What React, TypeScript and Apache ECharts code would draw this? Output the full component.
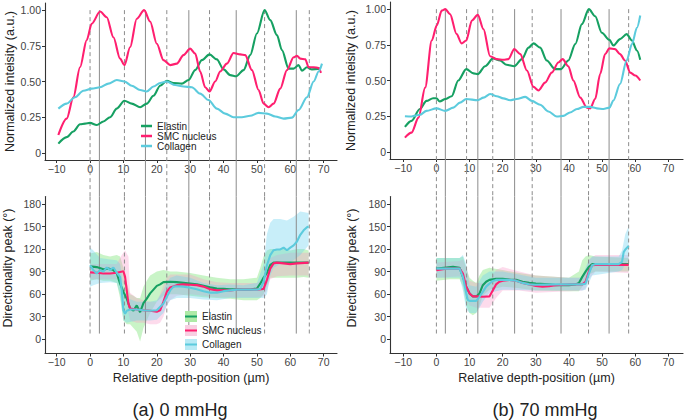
import React, { useEffect, useRef } from "react";
import * as echarts from "echarts";

const FONT = "'Liberation Sans', Arial, Helvetica, sans-serif";

const X_TICKS = [-10, 0, 10, 20, 30, 40, 50, 60, 70];
const INT_TICKS = [0, 0.25, 0.5, 0.75, 1];
const DIR_TICKS = [0, 30, 60, 90, 120, 150, 180];
const SERIES_NAMES = ["Elastin", "SMC nucleus", "Collagen"];
const PANEL_LABELS = ["(a) 0 mmHg", "(b) 70 mmHg"];
const X_TITLE = "Relative depth-position (µm)";
const Y_TITLE_TOP = "Normalized inteisity (a.u.)";
const Y_TITLE_BOTTOM = "Directionality peak (°)";

// reference lines (µm)
const A_DASHED = [0, 10.3, 23, 35.8, 52.3, 65.7];
const A_SOLID = [2.8, 16.6, 29.6, 43.8, 61.8];
const B_DASHED = [0, 9.1, 17, 28.9, 45.9, 58];
const B_SOLID = [2.7, 12.5, 23.6, 37.6, 52.1];

// ---- (a) 0 mmHg : normalized intensity ----
const A_INT_ELASTIN = [
  [-9.5, 0.065], [-7, 0.11], [-5, 0.15], [-3, 0.2], [-1.5, 0.205], [0, 0.21], [2, 0.195], [4, 0.22],
  [6, 0.25], [8, 0.31], [10.3, 0.365], [12.5, 0.345], [15, 0.32], [17, 0.345], [19, 0.4], [21, 0.47],
  [23, 0.505], [25, 0.49], [27.5, 0.485], [29.5, 0.51], [31.5, 0.58], [33.5, 0.65], [35.8, 0.69],
  [38, 0.655], [40, 0.585], [42, 0.545], [43.8, 0.537], [46, 0.58], [48, 0.685], [50, 0.836],
  [52.3, 1.0], [54, 0.93], [56, 0.825], [57.5, 0.72], [59.5, 0.59], [61, 0.59], [62.5, 0.615],
  [63.5, 0.575], [65, 0.6], [66.5, 0.585], [69, 0.59],
];
const A_INT_SMC = [
  [-9.5, 0.125], [-7, 0.24], [-5, 0.39], [-3, 0.6], [-1, 0.79], [0.5, 0.905], [3, 0.99], [5, 0.95],
  [7, 0.81], [9, 0.66], [10.3, 0.615], [12, 0.74], [14, 0.94], [16.2, 1.0], [18, 0.92], [20, 0.765],
  [22, 0.65], [24, 0.615], [26, 0.625], [28, 0.685], [30, 0.73], [31.5, 0.695], [33, 0.57], [34.5, 0.46],
  [35.8, 0.43], [37.5, 0.5], [39, 0.57], [41, 0.625], [43, 0.7], [45, 0.69], [46.5, 0.685], [48.5, 0.58],
  [50.5, 0.44], [52, 0.345], [53.5, 0.32], [55, 0.345], [57, 0.45], [59, 0.58], [61, 0.67], [62, 0.68],
  [63, 0.66], [64.5, 0.655], [65.5, 0.6], [67, 0.6], [68.5, 0.595], [69.2, 0.56],
];
const A_INT_COLLAGEN = [
  [-9.5, 0.31], [-7, 0.345], [-4.5, 0.39], [-2, 0.435], [0.5, 0.45], [3, 0.46], [5.5, 0.485], [8, 0.51],
  [10.3, 0.5], [12.5, 0.47], [15, 0.44], [17, 0.43], [19, 0.465], [21, 0.49], [23, 0.5], [25.5, 0.475],
  [28, 0.465], [30.5, 0.46], [33, 0.415], [35.5, 0.37], [38, 0.31], [40.5, 0.275], [43, 0.25],
  [45.5, 0.25], [48, 0.26], [50.5, 0.28], [53, 0.275], [55.5, 0.255], [58, 0.24], [60.5, 0.247],
  [62.5, 0.3], [65, 0.39], [67, 0.5], [68.5, 0.57], [69.5, 0.625],
];

// ---- (b) 70 mmHg : normalized intensity ----
const B_INT_ELASTIN = [
  [-9.5, 0.175], [-7.5, 0.217], [-5, 0.3], [-3, 0.357], [-1, 0.376], [0, 0.376], [1, 0.353], [2.7, 0.37],
  [4.6, 0.39], [6.6, 0.5], [9, 0.58], [11.2, 0.55], [12.5, 0.545], [14.7, 0.6], [17.1, 0.655],
  [19.2, 0.64], [21.2, 0.61], [23.5, 0.6], [25.8, 0.65], [27.8, 0.73], [29.3, 0.76], [31.3, 0.73],
  [33.3, 0.64], [35.8, 0.58], [37.6, 0.58], [39.8, 0.64], [41.9, 0.755], [43.9, 0.895], [46, 1.0],
  [47.9, 0.95], [49.9, 0.835], [52.2, 0.785], [53.4, 0.745], [55.4, 0.79], [57.4, 0.825], [59, 0.78],
  [60.5, 0.71], [61.5, 0.645],
];
const B_INT_SMC = [
  [-9.5, 0.1], [-7.5, 0.135], [-5.4, 0.24], [-3.4, 0.45], [-1.4, 0.78], [0.1, 0.885], [1.6, 0.99],
  [2.7, 1.0], [4.1, 0.965], [6.1, 0.825], [7.6, 0.76], [9, 0.78], [10.7, 0.92], [12.5, 0.96],
  [14.2, 0.86], [16.2, 0.67], [18.2, 0.65], [20.2, 0.645], [21.7, 0.65], [23.5, 0.72], [25.3, 0.685],
  [27.3, 0.57], [29.3, 0.455], [30.8, 0.43], [32.8, 0.485], [34.8, 0.555], [36.8, 0.626], [38.1, 0.65],
  [39.8, 0.6], [41.3, 0.5], [43.4, 0.38], [45.4, 0.31], [46.4, 0.305], [47.9, 0.37], [49.4, 0.545],
  [50.9, 0.685], [52.2, 0.725], [53.9, 0.72], [55.4, 0.685], [56.9, 0.64], [58.5, 0.555], [60, 0.535],
  [61.5, 0.5],
];
const B_INT_COLLAGEN = [
  [-9.5, 0.25], [-7.5, 0.248], [-5, 0.26], [-3, 0.287], [0, 0.305], [2.7, 0.287], [5.1, 0.31],
  [7.1, 0.345], [9, 0.37], [12.5, 0.362], [14.2, 0.38], [16.2, 0.405], [18.2, 0.39], [20.2, 0.375],
  [22.2, 0.362], [24.2, 0.37], [26.8, 0.385], [28.8, 0.357], [31.3, 0.33], [33.8, 0.283], [36.3, 0.248],
  [38.3, 0.252], [40.3, 0.276], [42.4, 0.3], [44.4, 0.315], [46.4, 0.315], [48.4, 0.305], [50.4, 0.3],
  [52.2, 0.31], [53.4, 0.36], [55.4, 0.475], [57.4, 0.64], [59, 0.755], [60.5, 0.87], [61.5, 0.955],
];

// ---- (a) 0 mmHg : directionality peak ----
const A_DIR_ELASTIN = [
  [0, 97], [2, 96], [4, 93], [5.5, 94], [7, 92], [8, 88], [9, 74], [10, 63], [11, 54], [12, 41], [13, 38],
  [14, 45], [15, 36], [16, 48], [17, 54], [18, 61], [19, 66], [20, 71], [21, 73], [22, 76], [24, 76.5],
  [26, 76], [28, 75], [30, 74], [32, 73], [34, 71], [36, 69], [38, 67.5], [40, 67], [42, 66.5], [44, 66.5],
  [46, 66], [48, 66], [50, 67.5], [51, 74], [52, 82], [53, 88], [54, 99], [55, 102], [58, 102], [62, 102],
  [65.5, 102],
];
const A_DIR_SMC = [
  [0, 89], [2, 88.5], [4, 87.5], [6, 87.5], [8, 88.5], [10, 90.5], [10.5, 83], [11, 65], [11.5, 47.5],
  [12, 41], [14, 39.5], [16, 38.5], [18, 38], [20, 36.5], [21, 38.5], [22, 50], [23, 63], [24, 69],
  [26, 72], [28, 73], [30, 72.5], [32, 72], [34, 70], [36, 66.5], [38, 65], [42, 65], [44, 66], [50, 66],
  [52, 67], [53, 79], [54, 94], [55, 101], [56, 102], [58, 101], [60, 100], [62, 101], [65.5, 102],
];
const A_DIR_COLLAGEN = [
  [0, 98.5], [1, 92], [2, 87.5], [3, 92], [4, 90], [5, 95.5], [6, 92], [7, 95.5], [8, 88.5], [9, 83],
  [9.5, 65], [10, 38.5], [10.5, 34], [11, 38], [12, 39.5], [14, 39.5], [16, 38.5], [18, 38], [20, 38.5],
  [22, 47.5], [23, 56.5], [24, 65], [25, 70], [26, 70.5], [28, 70], [30, 68.5], [32, 66.5], [34, 64],
  [36, 62], [38, 62], [40, 64], [42, 65], [44, 66], [50, 66], [51, 67], [52, 76.5], [53, 98.5], [54, 112],
  [55, 118.5], [56, 119.5], [57, 119.5], [58, 122], [59, 118.5], [60, 122], [61, 125], [62, 130],
  [63, 139], [64, 145], [65, 149], [65.5, 150],
];
const A_BAND_ELASTIN = [
  [0, 78, 114], [2, 80, 116], [4, 78, 112], [6, 78, 110], [8, 75, 112], [9, 55, 110], [10, 25, 95],
  [11, 20, 75], [12, 20, 60], [13, 15, 58], [14, 10, 55], [15, -3, 55], [16, 15, 70], [17, 25, 78],
  [18, 35, 85], [20, 50, 90], [22, 58, 92], [24, 60, 90], [26, 60, 90], [30, 58, 88], [34, 56, 85],
  [38, 55, 82], [42, 54, 80], [46, 52, 80], [50, 52, 82], [51, 55, 95], [52, 60, 110], [53, 72, 118],
  [54, 82, 120], [56, 82, 120], [58, 82, 120], [60, 82, 118], [62, 82, 120], [64, 83, 120], [65.5, 82, 118],
];
const A_BAND_SMC = [
  [0, 80, 100], [8, 80, 100], [9.5, 78, 112], [10.5, 70, 118], [11.5, 35, 110], [12, 25, 62],
  [14, 22, 55], [16, 22, 52], [18, 20, 50], [20, 20, 50], [21, 22, 60], [22, 30, 72], [23, 45, 82],
  [24, 52, 86], [26, 58, 86], [30, 60, 86], [34, 58, 80], [38, 56, 76], [42, 56, 75], [46, 56, 75],
  [50, 56, 75], [52, 57, 80], [53, 65, 95], [54, 80, 108], [56, 84, 112], [60, 85, 115], [65.5, 85, 115],
];
const A_BAND_COLLAGEN = [
  [0, 70, 122], [1, 72, 118], [3, 75, 108], [6, 76, 106], [8, 75, 105], [9, 60, 100], [10, 25, 70],
  [11, 22, 55], [14, 25, 50], [18, 25, 50], [20, 26, 52], [22, 35, 65], [23, 45, 75], [24, 52, 82],
  [26, 55, 85], [30, 55, 82], [34, 53, 75], [38, 52, 72], [42, 55, 73], [46, 55, 72], [50, 55, 75],
  [52, 55, 100], [53, 60, 140], [54, 85, 155], [55, 95, 160], [57, 100, 160], [59, 100, 158],
  [61, 105, 163], [63, 112, 170], [65.5, 125, 168],
];

// ---- (b) 70 mmHg : directionality peak ----
const B_DIR_ELASTIN = [
  [0, 94], [3, 95.5], [5, 96.5], [7, 95], [8, 83], [9, 70], [10, 61], [11, 57], [12, 57], [13, 61],
  [14, 72], [15, 76.5], [16, 79], [18, 80.5], [20, 80.5], [22, 79.5], [24, 79], [26, 76.5], [28, 75],
  [30, 74], [34, 73], [36, 72], [40, 72], [42, 73], [43, 75], [44, 83], [45, 90], [46, 96.5], [47, 100],
  [58, 100],
];
const B_DIR_SMC = [
  [0, 92], [3, 94], [7, 94], [8, 87.5], [9, 70], [10, 61], [11, 57], [12, 57], [14, 56.5], [16, 57],
  [17, 65], [18, 73], [19, 76.5], [20, 78], [22, 79], [24, 78], [26, 75], [28, 73], [30, 71], [32, 70],
  [34, 70.5], [36, 72], [40, 73], [44, 73], [45, 76.5], [46, 90], [47, 98.5], [48, 99], [58, 99],
];
const B_DIR_COLLAGEN = [
  [0, 94], [7, 94], [8, 83], [9, 61], [9.5, 52], [10, 51], [12, 51], [13, 56.5], [14, 63], [15, 70],
  [16, 74], [17, 77.5], [18, 79], [22, 79], [24, 78], [26, 75], [28, 73], [30, 72.5], [36, 73], [44, 73],
  [45, 74], [46, 87.5], [47, 98.5], [48, 100], [55, 100], [56, 103], [56.5, 116], [57, 119.5], [58, 124],
];
const B_BAND_ELASTIN = [
  [0, 78, 108], [4, 80, 108], [7, 80, 108], [8, 70, 110], [9, 45, 95], [10, 35, 82], [11, 32, 78],
  [12, 35, 75], [13, 45, 85], [14, 58, 92], [16, 66, 95], [20, 70, 92], [25, 68, 88], [30, 65, 85],
  [40, 64, 82], [43, 64, 90], [44, 70, 105], [45, 78, 110], [46, 86, 112], [48, 90, 110], [58, 90, 108],
];
const B_BAND_SMC = [
  [0, 82, 102], [7, 84, 104], [8, 75, 106], [9, 55, 95], [10, 45, 78], [12, 42, 75], [16, 42, 75],
  [17, 48, 85], [18, 55, 92], [20, 65, 96], [25, 65, 90], [30, 62, 85], [40, 64, 82], [44, 65, 82],
  [45, 68, 90], [46, 80, 106], [48, 90, 112], [58, 88, 112],
];
const B_BAND_COLLAGEN = [
  [0, 82, 108], [7, 82, 108], [8, 65, 112], [9, 40, 100], [10, 35, 72], [12, 35, 70], [13, 42, 78],
  [14, 50, 85], [16, 62, 90], [20, 66, 90], [30, 65, 82], [44, 65, 82], [45, 66, 95], [46, 75, 105],
  [47, 85, 110], [55, 90, 110], [56, 92, 118], [57, 100, 140], [58, 105, 150],
];

// ---- styling / layout ----
const LINE_COLORS = ["#16a062", "#ff1f6f", "#5ccbdd"];
const BAND_COLORS = ["rgba(105,225,100,0.36)", "rgba(248,150,200,0.34)", "rgba(110,210,238,0.38)"];
const LEGEND_BAND_COLORS = ["#aeeaa6", "#f8cfe2", "#b8eaf5"];
const REF_LINE_COLOR = "#8c8c8c";
const LINE_END_VALUE = 7.5;

const GRIDS = [
  { left: 45, top: 3, width: 292, height: 157 },
  { left: 390, top: 2, width: 293, height: 157 },
  { left: 45, top: 196.5, width: 292, height: 157 },
  { left: 390, top: 196.5, width: 293, height: 157 },
];
const X_RANGES = [
  [-13.5, 74],
  [-14, 74.4],
  [-13.5, 74],
  [-14, 74.4],
];

const fmtX = (v: number) => (v < 0 ? "\u2212" + Math.abs(v) : String(v));
const fmtInt = (v: number) => (v === 0 ? "0" : v.toFixed(2));

const axisLineStyle = { show: true, onZero: false, lineStyle: { color: "#333", width: 1.1 } };
const labelStyle = { color: "#444", fontSize: 10.5, fontFamily: FONT };
const titleStyle = { fontSize: 12.5, color: "#222", fontFamily: FONT };

function xAxisDef(gi: number, withName: boolean) {
  return {
    type: "value",
    gridIndex: gi,
    min: X_RANGES[gi][0],
    max: X_RANGES[gi][1],
    axisLine: axisLineStyle,
    axisTick: { show: true, length: 3, customValues: X_TICKS, lineStyle: { color: "#333" } },
    axisLabel: { ...labelStyle, margin: 3, customValues: X_TICKS, formatter: fmtX },
    splitLine: { show: false },
    name: withName ? X_TITLE : "",
    nameLocation: "middle",
    nameGap: 18,
    nameTextStyle: titleStyle,
  };
}

function yAxisDef(gi: number, top: boolean, nameGap: number) {
  return {
    type: "value",
    gridIndex: gi,
    min: top ? -0.05 : -19,
    max: top ? 1.05 : 190,
    axisLine: axisLineStyle,
    axisTick: { show: true, length: 3, customValues: top ? INT_TICKS : DIR_TICKS, lineStyle: { color: "#333" } },
    axisLabel: {
      ...labelStyle,
      margin: 4,
      customValues: top ? INT_TICKS : DIR_TICKS,
      formatter: top ? fmtInt : (v: number) => String(v),
    },
    splitLine: { show: false },
    name: top ? Y_TITLE_TOP : Y_TITLE_BOTTOM,
    nameLocation: "middle",
    nameGap,
    nameTextStyle: top ? titleStyle : { ...titleStyle, padding: [0, 0, 0, 14] },
  };
}

function vlineSeries(xs: number[], dashed: boolean, gi: number, part: "top" | "bottom", gap: number) {
  return {
    type: "custom",
    xAxisIndex: gi,
    yAxisIndex: gi,
    silent: true,
    clip: false,
    z: 1,
    data: xs.map((x) => [x, 0]),
    encode: { x: 0, y: 1 },
    renderItem: (params: any, api: any) => {
      const xv = api.value(0);
      const cs = params.coordSys;
      const px = api.coord([xv, 0])[0];
      let y1: number;
      let y2: number;
      if (part === "top") {
        y1 = api.coord([xv, 1])[1];
        y2 = cs.y + cs.height + gap;
      } else {
        y1 = cs.y;
        y2 = api.coord([xv, LINE_END_VALUE])[1];
      }
      return {
        type: "line",
        shape: { x1: px, y1, x2: px, y2 },
        style: { stroke: REF_LINE_COLOR, lineWidth: 1, lineDash: dashed ? [4, 3] : null },
      };
    },
  };
}

function bandSeries(band: number[][], color: string, gi: number, name: string) {
  return {
    type: "custom",
    name: name + " band",
    xAxisIndex: gi,
    yAxisIndex: gi,
    silent: true,
    z: 1,
    data: band,
    encode: { x: 0, y: [1, 2] },
    renderItem: (params: any, api: any) => {
      if (params.dataIndex !== 0) return null;
      const pts: number[][] = [];
      for (const r of band) pts.push(api.coord([r[0], r[2]]));
      for (let i = band.length - 1; i >= 0; i--) pts.push(api.coord([band[i][0], band[i][1]]));
      return { type: "polygon", shape: { points: pts }, style: { fill: color } };
    },
  };
}

function lineSeries(name: string, data: number[][], color: string, gi: number, smooth: boolean) {
  return {
    type: "line",
    name,
    xAxisIndex: gi,
    yAxisIndex: gi,
    data,
    showSymbol: false,
    symbol: "none",
    smooth: smooth ? 0.3 : false,
    smoothMonotone: smooth ? "x" : undefined,
    lineStyle: { color, width: 2.1 },
    itemStyle: { color },
    z: 3,
  };
}

function buildOption() {
  const gapA = GRIDS[2].top - (GRIDS[0].top + GRIDS[0].height);
  const gapB = GRIDS[3].top - (GRIDS[1].top + GRIDS[1].height);
  const series: any[] = [];

  [A_BAND_ELASTIN, A_BAND_SMC, A_BAND_COLLAGEN].forEach((b, i) =>
    series.push(bandSeries(b, BAND_COLORS[i], 2, SERIES_NAMES[i]))
  );
  [B_BAND_ELASTIN, B_BAND_SMC, B_BAND_COLLAGEN].forEach((b, i) =>
    series.push(bandSeries(b, BAND_COLORS[i], 3, SERIES_NAMES[i]))
  );

  series.push(vlineSeries(A_DASHED, true, 0, "top", gapA));
  series.push(vlineSeries(A_SOLID, false, 0, "top", gapA));
  series.push(vlineSeries(A_DASHED, true, 2, "bottom", 0));
  series.push(vlineSeries(A_SOLID, false, 2, "bottom", 0));
  series.push(vlineSeries(B_DASHED, true, 1, "top", gapB));
  series.push(vlineSeries(B_SOLID, false, 1, "top", gapB));
  series.push(vlineSeries(B_DASHED, true, 3, "bottom", 0));
  series.push(vlineSeries(B_SOLID, false, 3, "bottom", 0));

  const panels: [number[][][], number, boolean][] = [
    [[A_INT_ELASTIN, A_INT_SMC, A_INT_COLLAGEN], 0, true],
    [[B_INT_ELASTIN, B_INT_SMC, B_INT_COLLAGEN], 1, true],
    [[A_DIR_ELASTIN, A_DIR_SMC, A_DIR_COLLAGEN], 2, false],
    [[B_DIR_ELASTIN, B_DIR_SMC, B_DIR_COLLAGEN], 3, false],
  ];
  panels.forEach(([sets, gi, smooth]) =>
    sets.forEach((d, i) => series.push(lineSeries(SERIES_NAMES[i], d, LINE_COLORS[i], gi, smooth)))
  );

  const legB = { left: 185, top: 311, w: 12, h: 11, gap: 3 };
  const keyLines = SERIES_NAMES.map((_, i) => ({
    type: "line",
    z: 100,
    silent: true,
    shape: {
      x1: legB.left,
      y1: legB.top + legB.h / 2 + i * (legB.h + legB.gap),
      x2: legB.left + legB.w,
      y2: legB.top + legB.h / 2 + i * (legB.h + legB.gap),
    },
    style: { stroke: LINE_COLORS[i], lineWidth: 2 },
  }));

  return {
    animation: false,
    backgroundColor: "#ffffff",
    textStyle: { fontFamily: FONT },
    grid: GRIDS.map((g) => ({ ...g, containLabel: false, outerBoundsMode: "none" })),
    xAxis: [xAxisDef(0, false), xAxisDef(1, false), xAxisDef(2, true), xAxisDef(3, true)],
    yAxis: [yAxisDef(0, true, 29), yAxisDef(1, true, 33), yAxisDef(2, false, 31), yAxisDef(3, false, 32)],
    legend: [
      {
        orient: "vertical",
        left: 141,
        top: 121,
        padding: 0,
        itemGap: 0,
        itemWidth: 11,
        itemHeight: 2.5,
        icon: "rect",
        selectedMode: false,
        data: SERIES_NAMES.map((n, i) => ({ name: n, itemStyle: { color: LINE_COLORS[i], borderWidth: 0 } })),
        textStyle: { fontSize: 10, lineHeight: 10, color: "#222", fontFamily: FONT },
      },
      {
        orient: "vertical",
        left: legB.left,
        top: legB.top,
        padding: 0,
        itemGap: legB.gap,
        itemWidth: legB.w,
        itemHeight: legB.h,
        icon: "rect",
        selectedMode: false,
        data: SERIES_NAMES.map((n, i) => ({
          name: n,
          itemStyle: { color: LEGEND_BAND_COLORS[i], borderWidth: 0 },
        })),
        textStyle: { fontSize: 10, lineHeight: 11, color: "#222", fontFamily: FONT },
      },
    ],
    graphic: [
      ...keyLines,
      {
        type: "text",
        x: 180,
        y: 410,
        style: { text: PANEL_LABELS[0], fontSize: 18, fontFamily: FONT, fill: "#222", align: "center", verticalAlign: "middle" },
      },
      {
        type: "text",
        x: 545,
        y: 410,
        style: { text: PANEL_LABELS[1], fontSize: 18, fontFamily: FONT, fill: "#222", align: "center", verticalAlign: "middle" },
      },
    ],
    series,
  };
}

export default function App() {
  const ref = useRef<HTMLDivElement>(null);
  useEffect(() => {
    document.body.style.margin = "0";
    const chart = echarts.init(ref.current as HTMLDivElement, null, { renderer: "svg" });
    chart.setOption(buildOption() as any);
    return () => chart.dispose();
  }, []);
  return (
    <div
      ref={ref}
      style={{ position: "absolute", left: 0, top: 0, width: 685, height: 420, background: "#fff" }}
    />
  );
}
